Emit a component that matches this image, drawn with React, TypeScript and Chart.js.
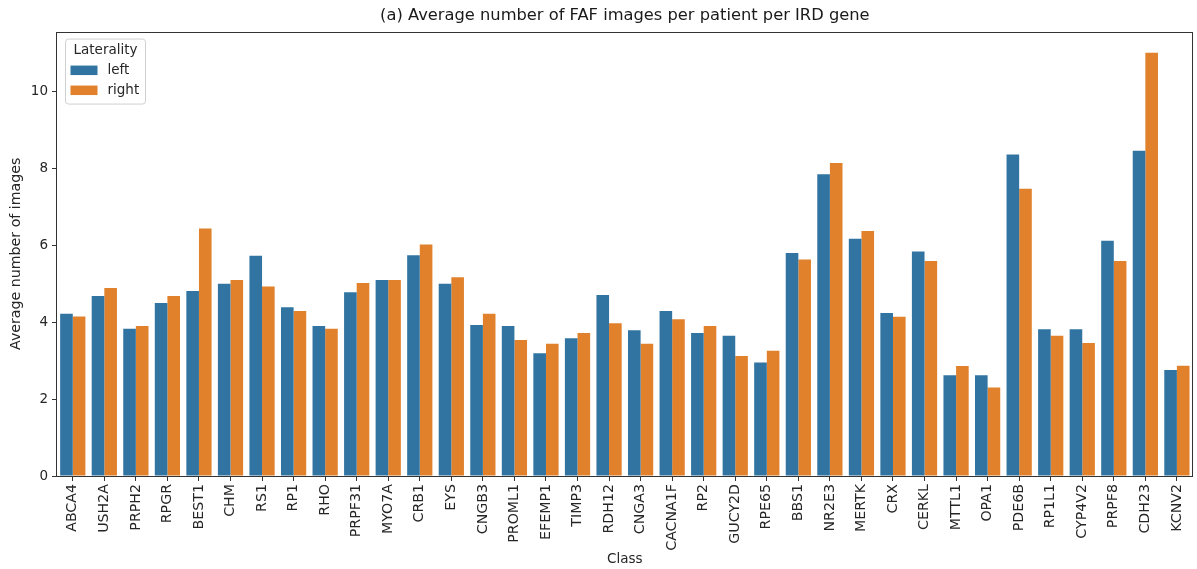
import React, { useEffect, useRef } from "react";
import { Chart, registerables } from "chart.js";

Chart.register(...registerables);

const categories = [
  "ABCA4", "USH2A", "PRPH2", "RPGR", "BEST1", "CHM", "RS1", "RP1", "RHO",
  "PRPF31", "MYO7A", "CRB1", "EYS", "CNGB3", "PROML1", "EFEMP1", "TIMP3",
  "RDH12", "CNGA3", "CACNA1F", "RP2", "GUCY2D", "RPE65", "BBS1", "NR2E3",
  "MERTK", "CRX", "CERKL", "MTTL1", "OPA1", "PDE6B", "RP1L1", "CYP4V2",
  "PRPF8", "CDH23", "KCNV2",
];

const leftValues = [
  4.22, 4.68, 3.83, 4.5, 4.81, 5.0, 5.73, 4.39, 3.9, 4.78, 5.1, 5.74, 5.0,
  3.93, 3.9, 3.19, 3.58, 4.71, 3.79, 4.29, 3.72, 3.65, 2.95, 5.8, 7.85, 6.17,
  4.24, 5.84, 2.62, 2.62, 8.36, 3.82, 3.82, 6.12, 8.46, 2.76,
];

const rightValues = [
  4.15, 4.89, 3.9, 4.68, 6.44, 5.1, 4.93, 4.29, 3.83, 5.02, 5.1, 6.02, 5.17,
  4.22, 3.54, 3.44, 3.72, 3.97, 3.44, 4.08, 3.9, 3.12, 3.26, 5.63, 8.14, 6.37,
  4.14, 5.59, 2.86, 2.3, 7.47, 3.65, 3.46, 5.59, 11.01, 2.87,
];

const seriesNames = ["left", "right"];
const seriesColors = ["#3274a1", "#e1812c"];
const yTickValues = [0, 2, 4, 6, 8, 10];
const yMax = 11.56;

const titleText = "(a) Average number of FAF images per patient per IRD gene";
const xTitle = "Class";
const yTitle = "Average number of images";
const legendTitle = "Laterality";

const FONT = "'DejaVu Sans', sans-serif";

export default function App() {
  const ref = useRef<HTMLCanvasElement>(null);

  useEffect(() => {
    if (!ref.current) return;

    const framePlugin = {
      id: "frame",
      afterDraw(chart: any) {
        const { left, right, top, bottom } = chart.chartArea;
        const ctx = chart.ctx;
        ctx.save();
        ctx.strokeStyle = "#333333";
        ctx.lineWidth = 1;
        ctx.strokeRect(
          Math.round(left) - 0.5,
          Math.round(top) + 0.5,
          Math.round(right) - Math.round(left),
          Math.round(bottom) - Math.round(top)
        );
        ctx.restore();
      },
    };

    const legendPlugin = {
      id: "insideLegend",
      afterDraw(chart: any) {
        const { left, top } = chart.chartArea;
        const ctx = chart.ctx;
        const bx = left + 8.5;
        const by = top + 7.5;
        const bw = 80;
        const bh = 65;
        ctx.save();
        ctx.beginPath();
        const r = 3;
        ctx.moveTo(bx + r, by);
        ctx.lineTo(bx + bw - r, by);
        ctx.quadraticCurveTo(bx + bw, by, bx + bw, by + r);
        ctx.lineTo(bx + bw, by + bh - r);
        ctx.quadraticCurveTo(bx + bw, by + bh, bx + bw - r, by + bh);
        ctx.lineTo(bx + r, by + bh);
        ctx.quadraticCurveTo(bx, by + bh, bx, by + bh - r);
        ctx.lineTo(bx, by + r);
        ctx.quadraticCurveTo(bx, by, bx + r, by);
        ctx.closePath();
        ctx.fillStyle = "rgba(255,255,255,0.85)";
        ctx.fill();
        ctx.strokeStyle = "#d0d0d0";
        ctx.lineWidth = 1;
        ctx.stroke();

        ctx.fillStyle = "#262626";
        ctx.font = `13.5px ${FONT}`;
        ctx.textAlign = "center";
        ctx.textBaseline = "middle";
        ctx.fillText(legendTitle, bx + bw / 2, by + 11);

        chart.data.datasets.forEach((ds: any, i: number) => {
          const cy = by + 31 + i * 20;
          ctx.fillStyle = ds.backgroundColor;
          ctx.fillRect(bx + 5, cy - 4.5, 27, 9.5);
          ctx.fillStyle = "#262626";
          ctx.textAlign = "left";
          ctx.fillText(ds.label, bx + 42, cy);
        });
        ctx.restore();
      },
    };

    const chart = new Chart(ref.current, {
      type: "bar",
      data: {
        labels: categories,
        datasets: [
          {
            label: seriesNames[0],
            data: leftValues,
            backgroundColor: seriesColors[0],
            borderWidth: 0,
            categoryPercentage: 0.8,
            barPercentage: 1.0,
          },
          {
            label: seriesNames[1],
            data: rightValues,
            backgroundColor: seriesColors[1],
            borderWidth: 0,
            categoryPercentage: 0.8,
            barPercentage: 1.0,
          },
        ],
      },
      options: {
        responsive: false,
        animation: false,
        events: [],
        layout: { padding: { left: 0, right: 1, top: 0, bottom: 0 } },
        plugins: {
          legend: { display: false },
          tooltip: { enabled: false },
          title: {
            display: true,
            text: titleText,
            fullSize: false,
            color: "#1a1a1a",
            font: { family: FONT, size: 16.3, weight: "normal" },
            padding: { top: 6, bottom: 6 },
          },
        },
        scales: {
          x: {
            type: "category",
            offset: true,
            border: { display: false },
            grid: {
              offset: false,
              drawOnChartArea: false,
              drawTicks: true,
              tickLength: 5,
              tickColor: "#333333",
            },
            ticks: {
              autoSkip: false,
              maxRotation: 90,
              minRotation: 90,
              padding: 3,
              color: "#262626",
              font: { family: FONT, size: 14.2 },
            },
            title: {
              display: true,
              text: xTitle,
              color: "#262626",
              font: { family: FONT, size: 13.5 },
              padding: { top: 0, bottom: 1 },
            },
            afterFit(scale: any) {
              scale.height = 93;
            },
          },
          y: {
            type: "linear",
            min: 0,
            max: yMax,
            border: { display: false },
            grid: {
              drawOnChartArea: false,
              drawTicks: true,
              tickLength: 5,
              tickColor: "#333333",
            },
            afterBuildTicks(scale: any) {
              scale.ticks = yTickValues.map((v) => ({ value: v }));
            },
            ticks: {
              padding: 4,
              color: "#262626",
              font: { family: FONT, size: 13.5 },
            },
            title: {
              display: true,
              text: yTitle,
              color: "#262626",
              font: { family: FONT, size: 14.2 },
              padding: { top: 8, bottom: 0 },
            },
            afterFit(scale: any) {
              scale.width = 57;
            },
          },
        },
      },
      plugins: [framePlugin, legendPlugin],
    });

    return () => chart.destroy();
  }, []);

  return (
    <div
      style={{
        position: "fixed",
        left: 0,
        top: 0,
        width: 1197,
        height: 569,
        background: "#ffffff",
      }}
    >
      <canvas ref={ref} width={1197} height={569} style={{ display: "block" }} />
    </div>
  );
}
